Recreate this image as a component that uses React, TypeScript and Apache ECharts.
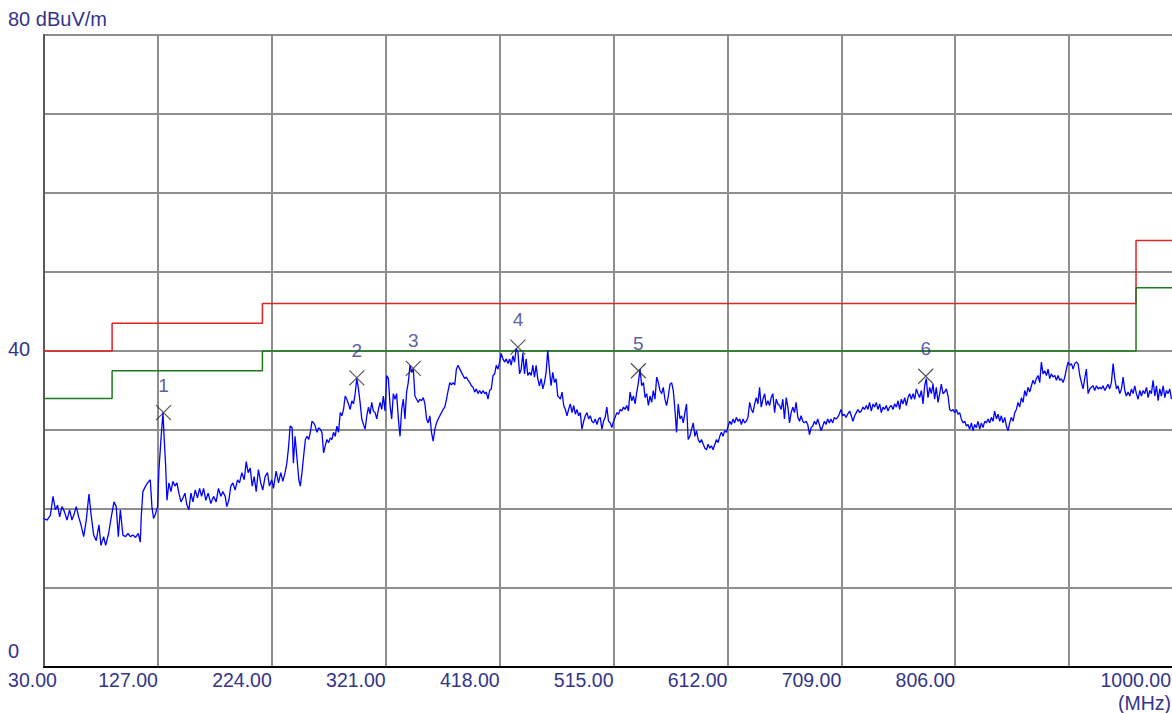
import React, { useEffect, useRef } from "react";
import * as echarts from "echarts";

const xTicks = [30, 127, 224, 321, 418, 515, 612, 709, 806, 903, 1000];
const yLabelled = [0, 40, 80];

const traceFreq = [
  30.0, 32.6, 35.4, 37.7, 39.7, 41.6, 43.3, 45.3, 47.3, 49.6, 51.8, 53.8, 55.3, 57.5, 59.5, 61.5, 63.8, 66.0, 68.3, 70.0,
  72.3, 74.5, 76.8, 78.5, 80.8, 82.5, 85.0, 87.3, 89.6, 91.5, 93.3, 95.0, 97.2, 99.5, 101.5, 103.5, 105.7, 108.0, 110.3, 112.0,
  112.8, 114.2, 116.5, 118.2, 120.5, 121.9, 123.3, 125.0, 126.7, 127.9, 129.6, 131.3, 132.4, 133.5, 134.7, 136.4, 138.1, 139.8, 141.5, 143.2,
  144.9, 146.6, 148.3, 150.0, 151.7, 153.4, 155.1, 156.8, 158.8, 160.7, 162.5, 164.2, 165.9, 167.8, 169.8, 172.1, 174.4, 176.6, 178.6, 180.6,
  182.3, 184.3, 185.7, 187.4, 189.1, 190.8, 192.8, 194.8, 196.5, 198.5, 200.5, 202.2, 203.9, 205.6, 207.3, 209.0, 210.7, 212.6, 214.6, 216.3,
  218.3, 220.3, 222.0, 224.0, 225.4, 227.7, 229.7, 231.6, 233.4, 235.3, 236.8, 238.2, 239.6, 241.3, 242.4, 243.8, 245.3, 247.0,
  248.3, 249.7, 251.1, 252.6, 254.0, 255.4, 256.8, 258.2, 259.6, 261.0, 262.5, 263.9, 265.3, 266.7, 268.1, 269.5, 270.9, 272.4, 273.8, 275.2,
  276.6, 278.0, 279.4, 280.8, 282.3, 283.7, 285.1, 286.5, 287.9, 289.3, 290.7, 292.2, 293.6, 295.0, 296.4, 297.8, 299.2, 300.6, 302.1, 303.5,
  304.9, 306.3, 307.7, 309.1, 310.5, 312.0, 313.4, 314.8, 316.2, 317.6, 319.0, 320.4, 321.9, 323.3, 324.7, 326.1, 327.5, 328.9, 330.3, 331.8,
  333.2, 334.6, 336.0, 337.4, 338.8, 340.2, 341.7, 343.1, 344.5, 345.9, 347.3, 348.7, 350.1, 351.5, 353.0, 354.4, 355.8, 357.2, 358.6, 360.0,
  361.4, 362.9, 364.3, 365.7, 367.1, 368.5, 369.9, 371.3, 372.8, 374.2, 375.6, 377.0, 378.4, 379.8, 381.2, 382.7, 384.1, 385.5, 386.9, 388.3,
  389.7, 391.1, 392.6, 394.0, 395.4, 396.8, 398.2, 399.6, 401.0, 402.5, 403.9, 405.3, 406.7, 408.1, 409.5, 410.9, 412.4, 413.8, 415.2, 416.6,
  418.0, 419.4, 420.8, 422.2, 423.7, 425.1, 426.5, 427.9, 429.3, 430.7, 432.1, 433.6, 435.0, 436.4, 437.8, 439.2, 440.6, 442.0, 443.5, 444.9,
  446.3, 447.7, 449.1, 450.5, 451.9, 453.4, 454.8, 456.2, 457.6, 459.0, 460.4, 461.8, 463.3, 464.7, 466.1, 467.5, 468.9,
  469.8, 471.2, 472.6, 474.0, 475.4, 476.8, 478.2, 479.7, 481.1, 482.5, 483.9, 485.3, 486.7, 488.1, 489.6, 491.0, 492.4, 493.8, 495.2, 496.6,
  498.0, 499.4, 500.9, 502.3, 503.7, 505.1, 506.5, 507.9, 509.3, 510.8, 512.2, 513.6, 515.0, 516.4, 517.8, 519.2, 520.7, 522.1, 523.5, 524.9,
  526.3, 527.7, 529.1, 530.6, 532.0, 533.4, 534.8, 536.2, 537.6, 539.0, 540.5, 541.9, 543.3, 544.7, 546.1, 547.5, 548.9, 550.3, 551.8, 553.2,
  554.6, 556.0, 557.4, 558.8, 560.2, 561.7, 563.1, 564.5, 565.9, 567.3, 568.7, 570.1, 571.6, 573.0, 574.4, 575.8, 577.2, 578.6, 580.0, 581.5,
  582.9, 584.3, 585.7, 587.1, 588.5, 589.9, 591.4, 592.8, 594.2, 595.6, 597.0, 598.4, 599.8, 601.3, 602.7, 604.1, 605.5, 606.9, 608.3, 609.7,
  611.2, 612.6, 614.0, 615.4, 616.8, 618.2, 619.6, 621.1, 622.5, 623.9, 625.3, 626.7, 628.1, 629.5, 631.0, 632.4, 633.8, 635.2, 636.6, 638.0,
  639.4, 640.8, 642.3, 643.7, 645.1, 646.5, 647.9, 649.3, 650.7, 652.2, 653.6, 655.0, 656.4, 657.8, 659.2, 660.6, 662.1, 663.5, 664.9, 666.3,
  667.7, 669.1, 670.5, 672.0, 673.4, 674.8, 676.2, 677.6, 679.0, 680.4, 681.9, 683.3, 684.7, 686.1, 687.5, 688.9, 690.3, 691.8, 693.2, 694.6,
  696.0, 697.4, 698.8, 700.2, 701.7, 703.1, 704.5, 705.9, 707.3, 708.7, 710.1, 711.6, 713.0, 714.4,
  716.1, 717.5, 718.9, 720.4, 721.8, 723.2, 724.6, 726.0, 727.5, 728.9, 730.3, 731.7, 733.1, 734.6, 736.0, 737.4, 738.8, 740.2, 741.7, 743.1,
  744.5, 745.9, 747.3, 748.8, 750.2, 751.6, 753.0, 754.4, 755.9, 757.3, 758.7, 760.1, 761.5, 763.0, 764.4, 765.8, 767.2, 768.6, 770.1, 771.5,
  772.9, 774.3, 775.7, 777.2, 778.6, 780.0, 781.4, 782.8, 784.3, 785.7, 787.1, 788.5, 789.9, 791.4, 792.8, 794.2, 795.6, 797.0, 798.5, 799.9,
  801.3, 802.7, 804.1, 805.6, 807.0, 808.4, 809.8, 811.2, 812.7, 814.1, 815.5, 816.9, 818.3, 819.8, 821.2, 822.6, 824.0, 825.4, 826.9, 828.3,
  829.7, 831.1, 832.5, 834.0, 835.4, 836.8, 838.2, 839.6, 841.1, 842.5, 843.9, 845.3, 846.7, 848.2, 849.6, 851.0, 852.4, 853.8, 855.3, 856.7,
  858.1, 859.5, 860.9, 862.4, 863.8, 865.2, 866.6, 868.0, 869.5, 870.9, 872.3, 873.7, 875.1, 876.6, 878.0, 879.4, 880.8, 882.2, 883.7, 885.1,
  886.5, 887.9, 889.3, 890.8, 892.2, 893.6, 895.0, 896.4, 897.9, 899.3, 900.7, 902.1, 903.5, 905.0, 906.4, 907.8, 909.2, 910.6, 912.1, 913.5,
  914.9, 916.3, 917.7, 919.2, 920.6, 922.0, 923.4, 924.8, 926.3, 927.7, 929.1, 930.5, 931.9, 933.4, 934.8, 936.2, 937.6, 939.0, 940.5, 941.9,
  943.3, 944.7, 946.1, 947.6, 949.0, 950.4, 951.8, 953.2, 954.7, 956.1, 957.5, 958.9, 960.3, 961.8, 963.2, 964.6, 966.0, 967.4, 968.9, 970.3,
  971.7, 973.1, 974.5, 976.0, 977.4, 978.8, 980.2, 981.6, 983.1, 984.5, 985.9, 987.3, 988.7, 990.2,
];

const traceLevel = [
  18.8, 18.6, 19.2, 21.6, 19.9, 20.5, 19.0, 20.3, 19.7, 18.6, 19.9, 18.6, 19.2, 20.3, 19.0, 18.0, 16.5, 18.6, 21.9, 19.4,
  16.7, 16.0, 18.0, 15.4, 16.5, 15.4, 16.9, 19.0, 20.9, 20.3, 16.5, 19.9, 16.7, 16.5, 16.9, 16.5, 16.7, 16.4, 16.9, 15.8,
  19.0, 22.2, 22.9, 23.3, 23.7, 20.3, 18.8, 19.4, 20.3, 25.0, 28.8, 32.2, 28.8, 25.8, 21.1, 23.3, 22.2, 23.5, 22.9, 23.3,
  22.0, 20.9, 21.4, 22.0, 20.5, 19.9, 22.0, 20.9, 22.4, 21.4, 22.6, 21.6, 22.6, 21.1, 22.0, 20.7, 21.6, 20.9, 22.6, 21.6,
  22.2, 21.6, 20.3, 21.1, 22.9, 23.3, 22.4, 23.7, 23.3, 24.6, 23.7, 26.0, 24.6, 25.2, 22.9, 24.1, 22.2, 25.0, 23.3, 22.4,
  24.1, 24.6, 22.9, 23.7, 22.6, 24.8, 23.3, 24.6, 23.5, 24.6, 25.8, 27.7, 30.5, 30.3, 25.8, 29.2, 26.7, 23.7,
  22.9, 24.6, 26.7, 28.8, 29.2, 28.8, 29.7, 31.1, 30.9, 30.5, 29.7, 30.3, 30.1, 29.7, 27.1, 28.0, 28.8, 28.4, 29.0, 28.8,
  29.7, 29.2, 30.5, 29.7, 32.2, 31.8, 32.6, 34.3, 33.9, 33.3, 32.6, 33.7, 33.3, 34.6, 36.5, 35.2, 33.5, 31.4, 30.7, 30.1,
  31.8, 32.9, 32.0, 33.5, 32.4, 32.2, 31.4, 32.6, 33.5, 32.6, 34.3, 32.4, 36.9, 36.5, 33.1, 31.4, 34.6, 33.9, 34.6, 31.4,
  29.2, 32.6, 33.9, 31.4, 34.8, 36.0, 38.2, 37.3, 37.7, 34.3, 33.9, 33.5, 33.9, 33.7, 34.1, 33.3, 31.4, 30.9, 31.8, 29.7,
  28.6, 30.1, 30.9, 31.4, 31.8, 32.2, 32.6, 32.9, 33.9, 35.0, 36.0, 35.7, 36.0, 35.7, 37.7, 38.2, 37.7, 37.3, 36.9, 36.5,
  36.7, 36.3, 36.0, 35.6, 35.4, 34.8, 35.2, 34.6, 35.0, 34.6, 35.0, 34.6, 34.8, 33.9, 35.0, 35.2, 36.9, 37.1, 38.2, 37.7,
  38.6, 39.7, 39.0, 38.6, 39.0, 38.4, 39.0, 38.2, 39.4, 38.6, 40.3, 39.9, 37.1, 37.7, 39.7, 37.1, 39.0, 36.9, 37.3, 36.9,
  38.2, 36.7, 38.2, 36.5, 35.6, 36.5, 35.2, 36.0, 37.3, 40.1, 37.7, 35.6, 37.3, 36.0, 36.5, 34.3, 34.1,
  33.9, 34.8, 33.1, 32.6, 31.8, 32.6, 33.3, 32.2, 33.1, 32.0, 32.6, 31.8, 32.2, 30.1, 31.1, 31.8, 32.2, 31.4, 31.8, 31.1,
  30.9, 31.4, 30.7, 31.4, 31.6, 30.1, 31.1, 31.6, 32.9, 31.1, 30.9, 30.3, 31.1, 31.6, 32.2, 32.0, 32.6, 32.4, 32.9, 32.6,
  33.1, 32.4, 34.8, 33.7, 34.3, 33.3, 34.8, 36.0, 37.7, 35.6, 36.0, 34.1, 34.6, 33.1, 34.3, 33.5, 35.0, 33.9, 36.7, 36.0,
  35.0, 34.6, 35.4, 33.9, 33.1, 34.3, 35.8, 36.0, 35.0, 32.6, 29.7, 33.3, 31.4, 31.8, 30.9, 32.2, 33.3, 28.8, 29.2, 30.1,
  30.9, 29.2, 29.9, 28.8, 28.4, 28.8, 28.2, 27.7, 27.5, 28.2, 27.7, 28.0, 27.5, 28.2, 28.8, 28.4, 29.2, 29.7, 29.2, 29.9,
  29.7, 30.5, 31.1, 30.7, 31.4, 30.9, 31.6, 31.1, 31.4, 30.7, 31.4, 30.9, 31.1, 31.6, 33.5, 32.6, 32.2, 33.3, 34.1, 33.3,
  35.4, 32.9, 33.9, 34.6, 33.1, 33.7, 33.1, 34.1, 34.6, 32.2, 33.9, 33.3, 33.1, 32.6, 33.9, 31.4, 34.1, 32.9, 30.9, 32.2,
  32.9, 32.2, 33.5, 31.6, 31.1, 31.8, 31.1, 30.9, 31.1, 30.7, 29.4, 30.3, 30.5, 31.1, 30.7, 31.4, 30.7, 29.9, 30.5, 31.1,
  30.7, 31.4, 30.9, 31.4, 30.9, 31.6, 31.4, 31.6, 32.0, 32.6, 31.8, 32.0, 31.6, 32.0,
  32.4, 31.8, 31.1, 31.8, 32.2, 32.6, 32.2, 32.4, 32.9, 32.6, 33.1, 32.6, 33.5, 32.4, 33.3, 32.9, 33.5, 32.6, 33.3, 32.2,
  32.9, 32.6, 33.1, 32.4, 32.9, 33.1, 32.6, 33.3, 32.9, 33.7, 32.6, 33.9, 33.3, 34.1, 33.1, 34.1, 34.6, 33.9, 34.6, 33.9,
  35.2, 34.6, 34.1, 35.0, 33.3, 35.6, 36.5, 34.1, 35.4, 34.6, 35.8, 33.9, 35.4, 33.5, 34.6, 35.8, 34.6, 34.8, 35.2, 34.3,
  32.6, 32.4, 32.6, 32.2, 32.6, 32.0, 32.2, 31.4, 30.9, 31.1, 30.5, 30.7, 30.1, 30.9, 29.9, 30.7, 30.3, 31.1, 30.1, 30.9,
  30.3, 31.1, 30.9, 31.4, 30.9, 31.6, 31.1, 32.4, 31.4, 32.0, 31.1, 31.8, 30.9, 31.6, 30.5, 29.9, 30.9, 31.6, 31.1, 32.2,
  32.6, 33.5, 32.9, 34.1, 33.5, 35.0, 34.3, 35.4, 34.8, 35.6, 36.3, 35.8, 36.5, 36.9, 36.0, 38.6, 37.1, 37.5, 36.9, 37.7,
  36.5, 37.1, 36.7, 36.9, 36.3, 36.9, 36.3, 36.5, 36.0, 36.7, 37.7, 38.6, 38.2, 38.4, 37.7, 38.4, 38.6, 38.4, 36.9, 36.0,
  35.2, 36.5, 37.7, 34.6, 35.2, 35.4, 35.6, 35.0, 35.6, 35.2, 35.4, 35.2, 35.6, 35.0, 35.4, 35.8, 35.2, 36.0, 38.4, 36.5,
  35.2, 35.6, 34.6, 35.2, 36.7, 35.0, 34.3, 34.8, 34.3, 35.2, 34.6, 35.6, 34.6, 33.9, 35.0, 34.3, 35.0, 34.6, 35.4, 34.1,
  35.0, 34.6, 36.3, 34.3, 35.6, 33.7, 35.2, 34.3, 35.6, 34.1, 35.0, 34.6, 35.2, 33.9,
];

// Limit lines (step functions): [frequency MHz, level dBuV/m]
const limitFreq = [30, 88, 88, 216, 216, 960, 960, 1000];
const quasiPeakLimit = [40, 40, 43.5, 43.5, 46, 46, 54, 54];
const marginLimit = [34, 34, 37.5, 37.5, 40, 40, 48, 48];

const markerNames = ["1", "2", "3", "4", "5", "6"];
const markerFreq = [131.8, 296.4, 344.5, 433.6, 536.2, 780.9];
const markerLevel = [32.2, 36.6, 37.8, 40.5, 37.5, 36.8];

const FONT = "'Liberation Sans', Arial, sans-serif";
const TEXT_COLOR = "#34348a";

export default function App() {
  const ref = useRef<HTMLDivElement>(null);

  useEffect(() => {
    document.body.style.margin = "0";
    if (!ref.current) return;
    const chart = echarts.init(ref.current, null, { renderer: "svg" });

    const trace = traceFreq.map((f, i) => [f, traceLevel[i]]);
    const qp = limitFreq.map((f, i) => [f, quasiPeakLimit[i]]);
    const mg = limitFreq.map((f, i) => [f, marginLimit[i]]);
    const markers = markerFreq.map((f, i) => ({ value: [f, markerLevel[i]], name: markerNames[i] }));

    chart.setOption({
      animation: false,
      backgroundColor: "#ffffff",
      textStyle: { fontFamily: FONT },
      grid: {
        left: 44,
        top: 35,
        width: 1139,
        height: 632,
        show: true,
        borderColor: "#5a5a5a",
        borderWidth: 2,
        outerBoundsMode: "none",
        containLabel: false,
      },
      xAxis: {
        type: "value",
        min: xTicks[0],
        max: xTicks[xTicks.length - 1],
        interval: 97,
        axisLine: { show: true, onZero: false, lineStyle: { color: "#000000", width: 2 } },
        axisTick: { show: false },
        splitLine: { show: true, lineStyle: { color: "#8e8e8e", width: 2 } },
        axisLabel: {
          showMinLabel: true,
          showMaxLabel: true,
          hideOverlap: false,
          align: "right",
          alignMinLabel: "center",
          alignMaxLabel: "right",
          margin: 3,
          fontSize: 19.5,
          fontFamily: FONT,
          color: TEXT_COLOR,
          formatter: (v: number) => {
            if (v === xTicks[0]) return "{first|" + v.toFixed(2) + "}";
            if (v === xTicks[xTicks.length - 1]) return "{last|" + v.toFixed(2) + "}";
            if (v === xTicks[xTicks.length - 2]) return "";
            return v.toFixed(2);
          },
          rich: {
            first: { fontSize: 19.5, fontFamily: FONT, color: TEXT_COLOR, padding: [0, 23, 0, 0] },
            last: { fontSize: 19.5, fontFamily: FONT, color: TEXT_COLOR, padding: [0, 12, 0, 0] },
          },
        },
      },
      yAxis: {
        type: "value",
        min: 0,
        max: 80,
        interval: 10,
        axisLine: { show: true, lineStyle: { color: "#5a5a5a", width: 2 } },
        axisTick: { show: false },
        splitLine: { show: true, lineStyle: { color: "#8e8e8e", width: 2 } },
        axisLabel: {
          showMinLabel: true,
          showMaxLabel: true,
          align: "left",
          margin: 36,
          fontSize: 20,
          fontFamily: FONT,
          color: TEXT_COLOR,
          formatter: (v: number) => {
            if (!yLabelled.includes(v)) return "";
            if (v === 80) return "{edge|80 dBuV/m}";
            if (v === 0) return "{edge|0}";
            return "{mid|" + String(v) + "}";
          },
          rich: {
            edge: { fontSize: 20, fontFamily: FONT, color: TEXT_COLOR, padding: [0, 0, 32, 0] },
            mid: { fontSize: 20, fontFamily: FONT, color: TEXT_COLOR, padding: [0, 0, 5, 0] },
          },
        },
      },
      graphic: [
        {
          type: "text",
          right: 1,
          top: 693,
          style: { text: "(MHz)", fontSize: 19.5, fontFamily: FONT, fill: TEXT_COLOR },
        },
      ],
      series: [
        {
          type: "line",
          name: "Limit",
          data: qp,
          showSymbol: false,
          lineStyle: { color: "#e02424", width: 1.5 },
          z: 3,
        },
        {
          type: "line",
          name: "Margin",
          data: mg,
          showSymbol: false,
          lineStyle: { color: "#1f7a1f", width: 1.5 },
          z: 3,
        },
        {
          type: "line",
          name: "Level",
          data: trace,
          showSymbol: false,
          lineStyle: { color: "#0000ff", width: 1.3 },
          z: 4,
        },
        {
          type: "scatter",
          name: "Markers",
          data: markers,
          symbol: "path://M0,0L10,10M10,0L0,10",
          symbolSize: 15,
          itemStyle: { color: "transparent", borderColor: "#2a2a2a", borderWidth: 1.2 },
          label: {
            show: true,
            position: "top",
            distance: 10,
            formatter: (p: any) => p.name,
            fontSize: 19,
            fontFamily: FONT,
            color: TEXT_COLOR,
          },
          z: 5,
        },
      ],
    });

    return () => chart.dispose();
  }, []);

  return <div ref={ref} style={{ width: 1172, height: 713 }} />;
}
